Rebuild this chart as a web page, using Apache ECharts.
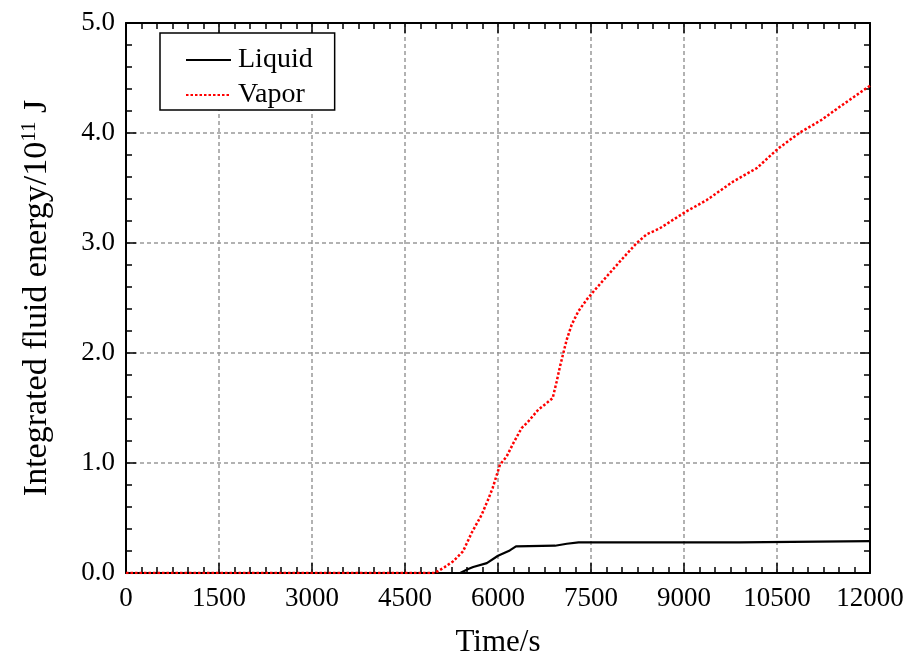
<!DOCTYPE html>
<html>
<head>
<meta charset="utf-8">
<script src="https://cdn.jsdelivr.net/npm/echarts@6/dist/echarts.min.js"></script>
<style>
  html, body { margin: 0; padding: 0; background: #fff; }
  #chart { width: 909px; height: 660px; }
</style>
</head>
<body>
<div id="chart"></div>
<script>
// Time (s) and integrated fluid energy (10^11 J) for each phase
const liquidTime   = [0, 5390, 5520, 5600, 5820, 6000, 6190, 6290, 6920, 7110, 7300, 9900, 12000];
const liquidEnergy = [0, 0, 0.036, 0.055, 0.09, 0.157, 0.205, 0.242, 0.248, 0.266, 0.278, 0.278, 0.29];

const vaporTime   = [0, 4980, 5130, 5274, 5435, 5576, 5737, 5839, 5914, 6032, 6140, 6247, 6382, 6489,
                     6650, 6785, 6882, 6946, 7000, 7054, 7108, 7188, 7295, 7430, 7565, 7753, 7968,
                     8237, 8400, 8600, 9016, 9366, 9796, 10173, 10511, 10871, 11221, 11516, 12000];
const vaporEnergy = [0, 0, 0.05, 0.105, 0.196, 0.366, 0.53, 0.666, 0.773, 0.985, 1.06, 1.18, 1.318, 1.378,
                     1.485, 1.545, 1.59, 1.74, 1.878, 2.0, 2.12, 2.257, 2.378, 2.485, 2.575, 2.696, 2.833,
                     3.0, 3.08, 3.13, 3.28, 3.39, 3.56, 3.68, 3.855, 4.005, 4.12, 4.24, 4.43];

const xTicks = [0, 1500, 3000, 4500, 6000, 7500, 9000, 10500, 12000];
const yTicks = [0, 1, 2, 3, 4, 5];

const FONT = '"Liberation Serif", "Times New Roman", serif';

const pairs = (xs, ys) => xs.map((x, i) => [x, ys[i]]);

const chart = echarts.init(document.getElementById('chart'), null, { renderer: 'canvas' });

const axisLine = { show: true, onZero: false, lineStyle: { color: '#000', width: 2 } };
const gridLine = { show: true, lineStyle: { color: '#999', width: 1.5, type: [4, 3] } };

const xBase = {
  type: 'value',
  min: xTicks[0],
  max: xTicks[xTicks.length - 1],
  interval: xTicks[1] - xTicks[0],
  axisLine: axisLine,
  axisTick: { show: true, inside: true, length: 10, lineStyle: { color: '#000', width: 1.5 } },
  minorTick: { show: true, splitNumber: 6, length: 6, lineStyle: { color: '#000', width: 1.5 } }
};
const yBase = {
  type: 'value',
  min: yTicks[0],
  max: yTicks[yTicks.length - 1],
  interval: yTicks[1] - yTicks[0],
  axisLine: axisLine,
  axisTick: { show: true, inside: true, length: 10, lineStyle: { color: '#000', width: 1.5 } },
  minorTick: { show: true, splitNumber: 5, length: 6, lineStyle: { color: '#000', width: 1.5 } }
};

chart.setOption({
  animation: false,
  backgroundColor: '#fff',
  textStyle: { fontFamily: FONT },
  grid: { left: 126, right: 39, top: 23, bottom: 87, containLabel: false, outerBoundsMode: 'none' },
  legend: {
    orient: 'vertical',
    left: 160,
    top: 33,
    padding: [13, 22, 1, 25],
    itemGap: 7,
    itemWidth: 45,
    itemHeight: 14,
    backgroundColor: '#fff',
    borderColor: '#000',
    borderWidth: 1.5,
    borderRadius: 0,
    itemStyle: { opacity: 0 },
    textStyle: { fontFamily: FONT, fontSize: 28, color: '#000', lineHeight: 28, padding: [0, 0, 0, 2] },
    data: ['Liquid', 'Vapor']
  },
  xAxis: [
    Object.assign({}, xBase, {
      position: 'bottom',
      name: 'Time/s',
      nameLocation: 'middle',
      nameGap: 54,
      nameTextStyle: { fontFamily: FONT, fontSize: 31, color: '#000' },
      axisLabel: { show: true, margin: 12, fontFamily: FONT, fontSize: 27, color: '#000',
        formatter: v => String(v) },
      splitLine: gridLine
    }),
    Object.assign({}, xBase, {
      position: 'top',
      axisLabel: { show: false },
      splitLine: { show: false }
    })
  ],
  yAxis: [
    Object.assign({}, yBase, {
      position: 'left',
      name: 'Integrated fluid energy/10{sup|11} J',
      nameLocation: 'middle',
      nameGap: 70,
      nameRotate: 90,
      nameTextStyle: {
        fontFamily: FONT, fontSize: 34, color: '#000',
        rich: {
          sup: { fontFamily: FONT, fontSize: 21, color: '#000', verticalAlign: 'top', padding: [0, 0, 16, 0] }
        }
      },
      axisLabel: {
        show: true, margin: 11, fontFamily: FONT, fontSize: 27, color: '#000',
        formatter: v => v.toFixed(1)
      },
      splitLine: gridLine
    }),
    Object.assign({}, yBase, {
      position: 'right',
      axisLabel: { show: false },
      splitLine: { show: false }
    })
  ],
  series: [
    {
      name: 'Liquid',
      type: 'line',
      xAxisIndex: 0,
      yAxisIndex: 0,
      data: pairs(liquidTime, liquidEnergy),
      symbol: 'none',
      smooth: false,
      lineStyle: { color: '#000', width: 2.2, type: 'solid' },
      itemStyle: { color: '#000' },
      z: 3
    },
    {
      name: 'Vapor',
      type: 'line',
      xAxisIndex: 0,
      yAxisIndex: 0,
      data: pairs(vaporTime, vaporEnergy),
      symbol: 'none',
      smooth: false,
      lineStyle: { color: '#ff0000', width: 2.5, type: [2.5, 2] },
      itemStyle: { color: '#ff0000' },
      z: 4
    }
  ]
});
</script>
</body>
</html>
